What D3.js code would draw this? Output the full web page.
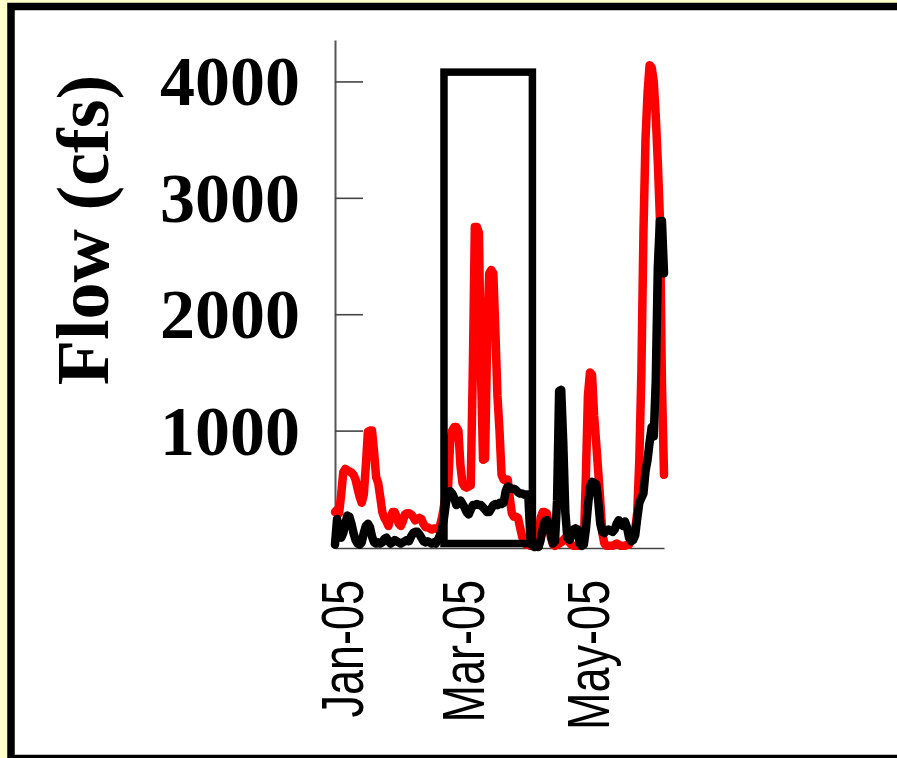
<!DOCTYPE html>
<html>
<head>
<meta charset="utf-8">
<script src="https://cdn.jsdelivr.net/npm/d3@7"></script>
<style>
  html, body { margin: 0; padding: 0; background: #ffffcc; }
  svg { display: block; }
</style>
</head>
<body>
<svg id="chart" width="897" height="758"></svg>
<script>
// ---------------- DATA ----------------
// Daily flow values (cfs), first value on 2004-12-29, one value per day through 2005-06-07
const startDate = "2004-12-29";
const redFlow = [
  300, 320, 290, 450, 640, 670, 660, 650, 640, 620,
  580, 500, 430, 380, 450, 700, 990, 1000, 1000, 820,
  600, 550, 430, 300, 250, 220, 180, 250, 300, 300,
  260, 200, 180, 220, 280, 290, 290, 280, 260, 230,
  240, 250, 240, 200, 170, 170, 160, 150, 160, 160,
  150, 180, 250, 350, 480, 520, 900, 1000, 1030, 1030,
  1000, 700, 550, 520, 510, 520, 530, 1500, 2750, 2750,
  2700, 1500, 750, 760, 1800, 2350, 2380, 2350, 1850, 1300,
  1000, 620, 580, 570, 580, 420, 290, 260, 260, 250,
  170, 90, 40, 20, 20, 10, 10, 20, 30, 80,
  250, 300, 300, 290, 200, 80, 20, 10, 20, 30,
  40, 60, 80, 60, 40, 20, 10, 10, 10, 10,
  20, 30, 600, 1300, 1500, 1480, 1130, 900, 650, 400,
  120, 30, 10, 10, 10, 10, 20, 30, 20, 10,
  10, 10, 20, 20, 80, 150, 150, 300, 750, 1500,
  2700, 3500, 3900, 4140, 4120, 4000, 3700, 3300, 2830, 1400, 620
];
const blackFlow = [
  20, 240, 150, 80, 120, 200, 270, 260, 200, 120,
  60, 30, 20, 40, 120, 180, 200, 170, 90, 40,
  30, 40, 30, 40, 70, 80, 50, 30, 40, 60,
  50, 40, 30, 40, 50, 60, 50, 90, 120, 130,
  130, 110, 80, 50, 40, 50, 40, 30, 40, 30,
  60, 100, 150, 250, 380, 470, 480, 460, 420, 360,
  380, 400, 370, 340, 300, 280, 320, 360, 360, 370,
  360, 360, 340, 320, 300, 300, 330, 360, 370, 360,
  380, 370, 380, 480, 520, 510, 500, 500, 490, 470,
  460, 460, 450, 450, 450, 80, 10, 0, 10, 0,
  60, 150, 220, 230, 200, 100, 30, 50, 400, 1340,
  1350, 900, 300, 80, 60, 100, 150, 160, 150, 30,
  10, 20, 150, 350, 520, 560, 550, 540, 400, 200,
  130, 120, 140, 150, 140, 130, 150, 200, 230, 200,
  180, 220, 170, 80, 50, 60, 100, 250, 380, 420,
  460, 650, 750, 900, 1030, 950, 1430, 2400, 2800, 2800, 2350
];
const yTicks = [1000, 2000, 3000, 4000];
const xTickDates = ["2005-01-01", "2005-03-01", "2005-05-01"];
const xTickLabels = ["Jan-05", "Mar-05", "May-05"];
const yTitle = "Flow (cfs)";
// highlighted period box
const boxDates = ["2005-02-20", "2005-04-04"];
const boxFlows = [30, 4080];
const xDomain = ["2004-12-29", "2005-06-07"];
const yMax = 4356;

// ---------------- CHART ----------------
const parse = d3.timeParse("%Y-%m-%d");
const t0 = parse(startDate);
const dayOf = i => d3.timeDay.offset(t0, i);

const svg = d3.select("#chart");
svg.append("rect").attr("width", 897).attr("height", 758).attr("fill", "#ffffcc");
svg.append("rect")
  .attr("x", 11).attr("y", 6.5).attr("width", 1000).attr("height", 752)
  .attr("fill", "#ffffff").attr("stroke", "#000").attr("stroke-width", 7.5);

const x = d3.scaleTime().domain(xDomain.map(parse)).range([335, 664]);
const y = d3.scaleLinear().domain([0, yMax]).range([547, 40]);

// y axis
const yAxis = d3.axisLeft(y).tickValues(yTicks).tickSizeInner(-28).tickSizeOuter(0)
  .tickPadding(35).tickFormat(d3.format("d"));
const gy = svg.append("g").attr("transform", "translate(335,0)").call(yAxis);
gy.select(".domain").attr("stroke", "#555").attr("stroke-width", 2);
gy.selectAll(".tick line").attr("stroke", "#444").attr("stroke-width", 1.6);
gy.selectAll(".tick text")
  .attr("fill", "#000")
  .style("font-family", "'Liberation Serif', 'Times New Roman', serif")
  .style("font-weight", "bold").style("font-size", "70px")
  .attr("dy", null).attr("dominant-baseline", "central");

// x axis
const xAxis = d3.axisBottom(x).tickValues(xTickDates.map(parse)).tickSize(0)
  .tickFormat((d, i) => xTickLabels[i]);
const gx = svg.append("g").attr("transform", "translate(0,548)").call(xAxis);
gx.select(".domain").attr("stroke", "#444").attr("stroke-width", 1.5);
gx.selectAll(".tick text")
  .attr("fill", "#000")
  .attr("x", 0).attr("y", 0).attr("dy", null)
  .attr("transform", "translate(0,32) rotate(-90) scale(0.75,1)")
  .attr("text-anchor", "end").attr("dominant-baseline", "central")
  .style("font-family", "'Liberation Sans', Arial, sans-serif")
  .style("font-size", "60px");

// y title
svg.append("text")
  .attr("transform", "translate(108,230) rotate(-90)")
  .attr("text-anchor", "middle")
  .style("font-family", "'Liberation Serif', 'Times New Roman', serif")
  .style("font-weight", "bold").style("font-size", "74px")
  .attr("fill", "#000")
  .text(yTitle);

// lines
const line = d3.line().x((d, i) => x(dayOf(i))).y(d => y(d));
svg.append("path").datum(redFlow).attr("d", line)
  .attr("fill", "none").attr("stroke", "#ff0000").attr("stroke-width", 8.5)
  .attr("stroke-linejoin", "round").attr("stroke-linecap", "round");
svg.append("path").datum(blackFlow).attr("d", line)
  .attr("fill", "none").attr("stroke", "#000000").attr("stroke-width", 8.5)
  .attr("stroke-linejoin", "round").attr("stroke-linecap", "round");

// highlight box
const bx0 = x(parse(boxDates[0])), bx1 = x(parse(boxDates[1]));
const by0 = y(boxFlows[1]), by1 = y(boxFlows[0]);
svg.append("rect")
  .attr("x", bx0).attr("y", by0).attr("width", bx1 - bx0).attr("height", by1 - by0)
  .attr("fill", "none").attr("stroke", "#000").attr("stroke-width", 7.5);
</script>
</body>
</html>
